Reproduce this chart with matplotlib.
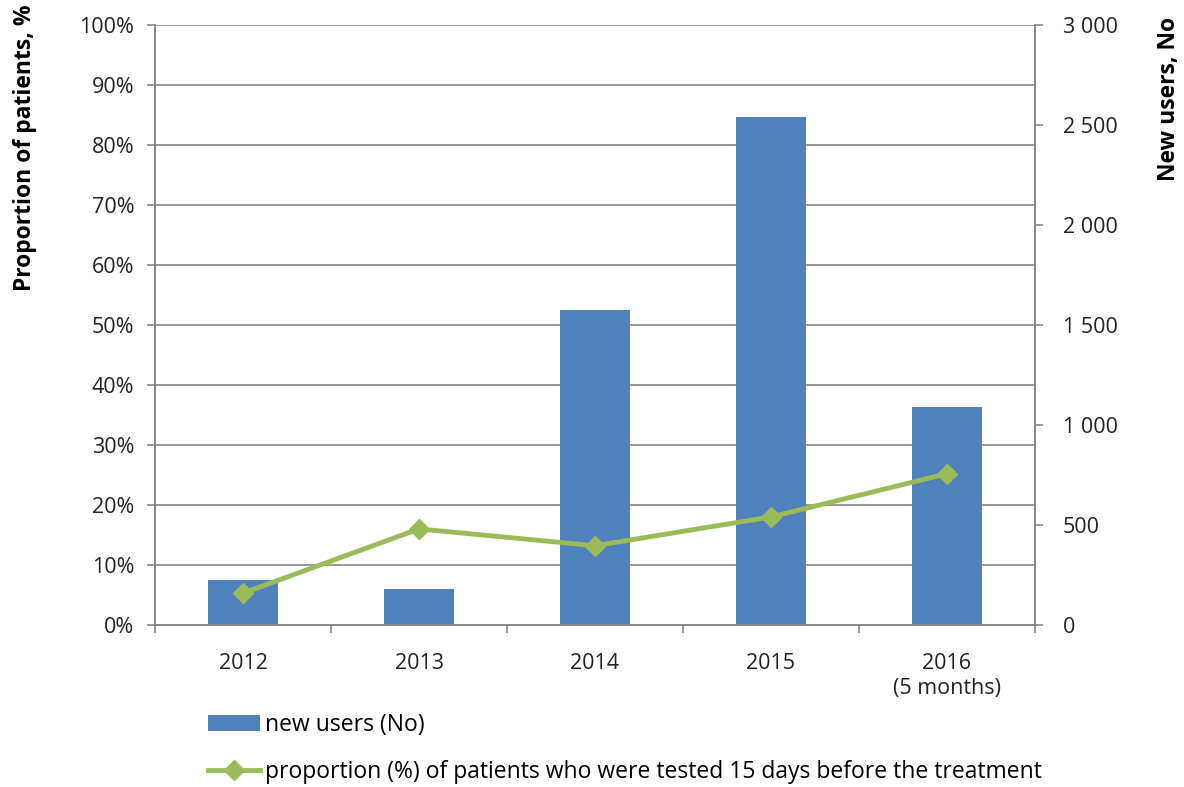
import matplotlib
matplotlib.use("Agg")
import matplotlib.pyplot as plt
from matplotlib.ticker import FuncFormatter, MultipleLocator

plt.rcParams['font.family'] = ['Open Sans', 'DejaVu Sans']

categories = ["2012", "2013", "2014", "2015", "2016\n(5 months)"]
new_users = [225, 180, 1575, 2540, 1090]
proportion = [5.3, 16.0, 13.2, 18.0, 25.2]

bar_label = "new users (No)"
line_label = "proportion (%) of patients who were tested 15 days before the treatment"

blue = "#4F81BD"
green = "#9BBB59"
gray = "#868686"
fs = 15.5

fig = plt.figure(figsize=(11.84, 7.87), dpi=100)
ax = fig.add_axes([0.131, 0.206, 0.743, 0.762])
ax2 = ax.twinx()

x = list(range(len(categories)))
bars = ax2.bar(x, new_users, width=0.4, color=blue, zorder=2)
ax2.set_ylim(0, 3000)
ax2.yaxis.set_major_locator(MultipleLocator(500))
ax2.yaxis.set_major_formatter(FuncFormatter(lambda v, p: f"{int(v):,}".replace(",", " ")))

ax.set_zorder(ax2.get_zorder() + 1)
ax.patch.set_visible(False)
line, = ax.plot(x, proportion, color=green, lw=3.5, marker='D', ms=10, zorder=3)
ax.set_ylim(0, 100)
ax.yaxis.set_major_locator(MultipleLocator(10))
ax.yaxis.set_major_formatter(FuncFormatter(lambda v, p: f"{int(v)}%"))
ax.set_xlim(-0.5, len(categories) - 0.5)

# horizontal gridlines at each 10% of the left axis, drawn behind the bars
for k in range(1, 11):
    ax2.axhline(3000 * k / 10, color=gray, lw=1.2, zorder=1)

ax.set_xticks(x)
ax.set_xticklabels(categories, linespacing=1.25)
ax.tick_params(axis='x', length=0, pad=20, labelsize=fs, colors='#222222')
ax.set_xticks([i + 0.5 for i in range(-1, len(categories))], minor=True)
ax.tick_params(axis='x', which='minor', length=6, color=gray, width=1.2)
ax.tick_params(axis='y', length=6, color=gray, width=1.2, labelsize=fs, labelcolor='#222222', pad=9)
ax2.tick_params(axis='y', length=6, color=gray, width=1.2, labelsize=fs, labelcolor='#222222', pad=14)

for a in (ax, ax2):
    a.spines['top'].set_visible(False)
    for s in ('left', 'right', 'bottom'):
        a.spines[s].set_color(gray)
        a.spines[s].set_linewidth(1.2)

fig.text(0.021, 0.995, "Proportion of patients, %", rotation=90, va='top', ha='center',
         fontsize=16.5, fontweight='bold')
fig.text(0.987, 0.978, "New users, No", rotation=90, va='top', ha='center',
         fontsize=16.5, fontweight='bold')

fig.legend([bars, line], [bar_label, line_label], loc='lower left',
           bbox_to_anchor=(0.158, -0.022), frameon=False, fontsize=16.5,
           labelspacing=1.0, handlelength=2.3, handletextpad=0.2)

fig.savefig("out.png", dpi=100)
